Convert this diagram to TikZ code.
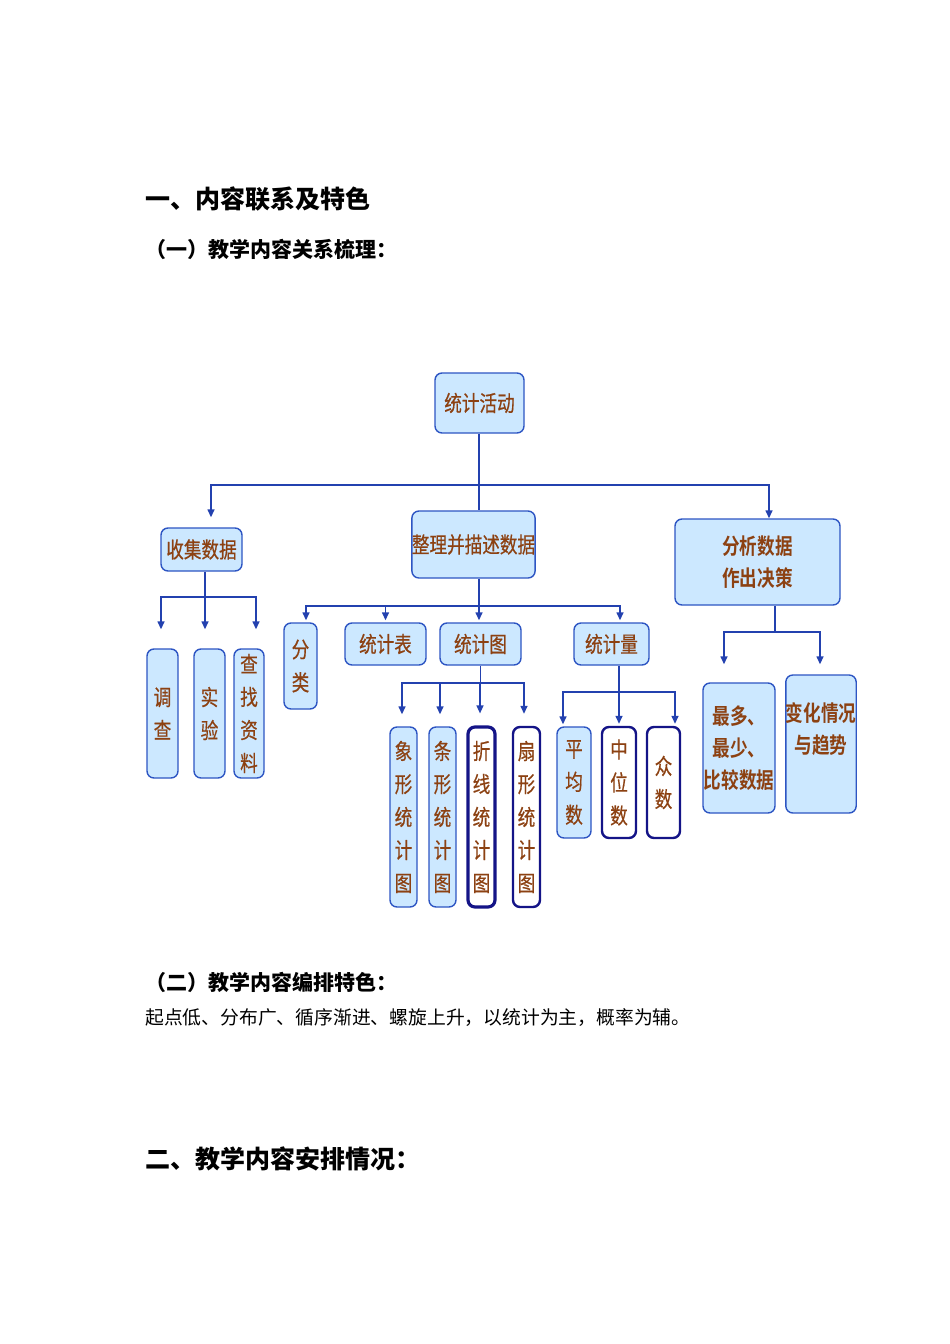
\documentclass[tikz,border=0pt]{standalone}
\usepackage{fontspec}
\newfontfamily\cjk{Noto Sans CJK SC}
\newfontfamily\boxfont[FakeStretch=0.8, FakeBold=0.5]{Noto Sans CJK SC}
\newfontfamily\boxfontb[FakeStretch=0.8]{Noto Sans CJK SC Bold}
\usetikzlibrary{arrows.meta}

\definecolor{cajafondo}{RGB}{204,232,255}
\definecolor{cajaborde}{RGB}{45,85,195}
\definecolor{marino}{RGB}{20,20,135}
\definecolor{azullinea}{RGB}{35,65,175}
\definecolor{textocaja}{RGB}{140,65,18}

\tikzset{
  caja/.style={draw=cajaborde, fill=cajafondo, line width=1.4pt, rounded corners=7pt,
    inner sep=0pt, text=textocaja, align=center, font=\boxfont\fontsize{22}{33}\selectfont},
  cajanegrita/.style={caja, font=\boxfontb\fontsize{22}{32}\selectfont},
  cajablanca/.style={caja, fill=white, draw=marino, line width=2.4pt},
  conector/.style={draw=azullinea, line width=1.4pt},
  flecha/.style={conector, -{Triangle[length=8pt,width=7pt]}},
  titulo/.style={anchor=west, inner sep=0pt, font=\cjk\bfseries\fontsize{25}{30}\selectfont},
  subtitulo/.style={anchor=west, inner sep=0pt, font=\cjk\bfseries\fontsize{21}{26}\selectfont}
}

\begin{document}
\begin{tikzpicture}[x=1pt, y=-1pt]
\useasboundingbox (0,0) rectangle (950,1344);

% Titulos
\node[titulo] (titulo1) at (145,199) {一、内容联系及特色};
\node[subtitulo] (titulo2) at (145,249) {（一）教学内容关系梳理：};

% Raiz
\node[caja, minimum width=89pt, minimum height=60pt] (actividad) at (479.5,403) {统计活动};

% Primer nivel
\node[caja, minimum width=81pt, minimum height=43pt] (recoger) at (201.5,549.5) {收集数据};
\node[caja, minimum width=121pt, minimum height=67pt] (ordenar) at (473.5,544.5) {整理并描述数据};
\node[cajanegrita, minimum width=165pt, minimum height=86pt] (analizar) at (757.5,562) {分析数据\\作出决策};

% Recoger datos
\node[caja, minimum width=31pt, minimum height=129pt] (encuesta) at (162.5,713.5) {调\\查};
\node[caja, minimum width=31pt, minimum height=129pt] (experimento) at (209.5,713.5) {实\\验};
\node[caja, minimum width=30pt, minimum height=129pt] (consulta) at (249,713.5) {查\\找\\资\\料};

% Ordenar datos
\node[caja, minimum width=33pt, minimum height=86pt] (clasificar) at (300.5,666) {分\\类};
\node[caja, minimum width=81pt, minimum height=42pt] (tabla) at (385.5,644) {统计表};
\node[caja, minimum width=81pt, minimum height=42pt] (grafico) at (480.5,644) {统计图};
\node[caja, minimum width=75pt, minimum height=42pt] (medidas) at (611.5,644) {统计量};

% Graficos
\node[caja, minimum width=27pt, minimum height=180pt] (pictograma) at (403.5,817) {象\\形\\统\\计\\图};
\node[caja, minimum width=27pt, minimum height=180pt] (barras) at (442.5,817) {条\\形\\统\\计\\图};
\node[cajablanca, line width=3.2pt, minimum width=27pt, minimum height=180pt] (lineas) at (481.5,817) {折\\线\\统\\计\\图};
\node[cajablanca, minimum width=27pt, minimum height=180pt] (sectores) at (526.5,817) {扇\\形\\统\\计\\图};

% Medidas
\node[caja, minimum width=34pt, minimum height=111pt] (media) at (574,782.5) {平\\均\\数};
\node[cajablanca, minimum width=34pt, minimum height=111pt] (mediana) at (619,782.5) {中\\位\\数};
\node[cajablanca, minimum width=33pt, minimum height=111pt] (moda) at (663.5,782.5) {众\\数};

% Analizar datos
\node[cajanegrita, minimum width=72pt, minimum height=130pt] (comparar) at (739,748) {最多、\\最少、\\比较数据};
\node[cajanegrita, minimum width=70pt, minimum height=138pt] (tendencia) at (821,744) {变化情况\\与趋势\\~};

% Conectores de la raiz
\coordinate (bus0) at (479,485);
\draw[conector] ([xshift=-0.5pt]actividad.south) -- ([xshift=-0.5pt]actividad.south |- ordenar.north);
\draw[flecha, shorten >=10pt] (bus0) -| ([xshift=9.5pt]recoger.north);
\draw[flecha] (bus0) -| ([xshift=11.5pt]analizar.north);

% Conectores de recoger
\coordinate (bus1) at (205,597);
\draw[conector] ([xshift=3.5pt]recoger.south) -- (bus1);
\draw[flecha, shorten >=19pt] (bus1) -| ([xshift=-1.5pt]encuesta.north);
\draw[flecha, shorten >=19pt] (bus1) -| ([xshift=-4.5pt]experimento.north);
\draw[flecha, shorten >=19pt] (bus1) -| ([xshift=7pt]consulta.north);

% Conectores de ordenar
\coordinate (bus2) at (479,606);
\draw[conector] ([xshift=5.5pt]ordenar.south) -- (bus2);
\draw[flecha, shorten >=2pt] (bus2) -| ([xshift=5.5pt]clasificar.north);
\draw[flecha, shorten >=2pt] (bus2) -| (tabla.north);
\draw[flecha, shorten >=2pt] (bus2) -| ([xshift=-1.5pt]grafico.north);
\draw[flecha, shorten >=2pt] (bus2) -| ([xshift=8.5pt]medidas.north);

% Conectores de graficos
\coordinate (bus3) at (480.5,683);
\draw[conector] (grafico.south) -- (bus3);
\draw[flecha, shorten >=12pt] (bus3) -| ([xshift=-1.5pt]pictograma.north);
\draw[flecha, shorten >=12pt] (bus3) -| ([xshift=-2.5pt]barras.north);
\draw[flecha, shorten >=12pt] (bus3) -| ([xshift=-1.5pt]lineas.north);
\draw[flecha, shorten >=12pt] (bus3) -| ([xshift=-2.5pt]sectores.north);

% Conectores de medidas
\coordinate (bus4) at (619,692);
\draw[conector] ([xshift=7.5pt]medidas.south) -- (bus4);
\draw[flecha, shorten >=2pt] (bus4) -| ([xshift=-11pt]media.north);
\draw[flecha, shorten >=2pt] (bus4) -| (mediana.north);
\draw[flecha, shorten >=2pt] (bus4) -| ([xshift=11.5pt]moda.north);

% Conectores de analizar
\coordinate (bus5) at (775,632);
\draw[conector] ([xshift=17.5pt]analizar.south) -- (bus5);
\draw[flecha, shorten >=18pt] (bus5) -| ([xshift=-15pt]comparar.north);
\draw[flecha, shorten >=10pt] (bus5) -| ([xshift=-1pt]tendencia.north);

% Segunda parte
\node[subtitulo] (titulo3) at (145,982) {（二）教学内容编排特色：};
\node[anchor=west, inner sep=0pt, font=\cjk\fontsize{18.8}{22}\selectfont] (parrafo) at (145,1018) {起点低、分布广、循序渐进、螺旋上升，以统计为主，概率为辅。};
\node[titulo] (titulo4) at (145,1159) {二、教学内容安排情况：};
\end{tikzpicture}
\end{document}
